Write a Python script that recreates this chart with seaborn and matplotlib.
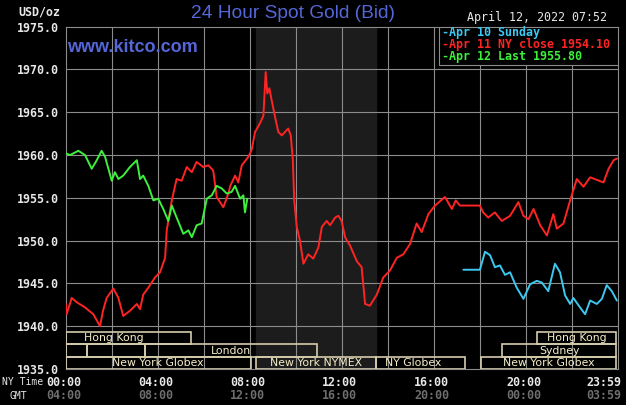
import matplotlib
matplotlib.use("Agg")
import matplotlib.pyplot as plt
import matplotlib.patches as mpatches
import pandas as pd
import seaborn as sns

# Apr 11 NY close (red)
red_hours = [0.0, 0.04, 0.26, 0.48, 0.84, 1.2, 1.49, 1.62, 1.78, 2.07,
             2.29, 2.5, 2.79, 3.09, 3.23, 3.37, 3.59, 3.88, 4.1, 4.32,
             4.39, 4.61, 4.82, 5.04, 5.26, 5.48, 5.69, 5.98, 6.2, 6.41,
             6.56, 6.85, 7.07, 7.15, 7.36, 7.5, 7.65, 7.94, 8.08, 8.23,
             8.44, 8.59, 8.69, 8.76, 8.85, 8.95, 9.1, 9.24, 9.39, 9.53,
             9.67, 9.78, 9.87, 9.93, 10.04, 10.18, 10.33, 10.54, 10.76, 10.98,
             11.13, 11.34, 11.49, 11.71, 11.85, 11.99, 12.14, 12.36, 12.65, 12.86,
             13.01, 13.22, 13.52, 13.8, 14.09, 14.39, 14.67, 14.96, 15.25, 15.47,
             15.76, 16.05, 16.48, 16.78, 16.95, 17.13, 18.0, 18.14, 18.36, 18.65,
             18.95, 19.31, 19.67, 19.89, 20.11, 20.33, 20.62, 20.91, 21.19, 21.34,
             21.63, 21.92, 22.21, 22.5, 22.79, 23.37, 23.59, 23.81, 23.96]
red_price = [1942.6, 1941.4, 1943.3, 1942.8, 1942.2, 1941.4, 1940.0, 1941.8, 1943.3, 1944.4,
             1943.3, 1941.2, 1941.8, 1942.6, 1942.0, 1943.7, 1944.5, 1945.7, 1946.3, 1948.0,
             1951.2, 1954.7, 1957.2, 1957.0, 1958.6, 1958.0, 1959.2, 1958.6, 1958.8, 1958.2,
             1955.1, 1953.9, 1955.5, 1956.4, 1957.6, 1956.8, 1958.8, 1959.8, 1960.6, 1962.7,
             1963.7, 1964.6, 1969.7, 1967.2, 1967.8, 1966.4, 1964.4, 1962.7, 1962.3, 1962.7,
             1963.1, 1962.3, 1959.4, 1954.7, 1951.6, 1950.0, 1947.3, 1948.4, 1947.9, 1949.2,
             1951.6, 1952.3, 1951.8, 1952.7, 1952.9, 1952.3, 1950.4, 1949.4, 1947.6, 1946.9,
             1942.6, 1942.4, 1943.7, 1945.7, 1946.5, 1948.0, 1948.4, 1949.6, 1952.0, 1951.0,
             1953.1, 1954.1, 1955.1, 1953.7, 1954.7, 1954.1, 1954.1, 1953.3, 1952.7, 1953.3,
             1952.3, 1952.9, 1954.5, 1952.9, 1952.5, 1953.7, 1951.8, 1950.6, 1953.1, 1951.4,
             1952.0, 1954.7, 1957.2, 1956.3, 1957.4, 1956.8, 1958.4, 1959.4, 1959.6]

# Apr 12 last (green)
green_hours = [0.0, 0.19, 0.55, 0.84, 1.13, 1.35, 1.56, 1.71, 2.0, 2.14,
               2.29, 2.5, 2.79, 3.09, 3.23, 3.37, 3.59, 3.81, 4.02, 4.24,
               4.46, 4.61, 4.82, 5.11, 5.33, 5.48, 5.69, 5.91, 6.13, 6.35,
               6.56, 6.78, 7.0, 7.21, 7.36, 7.58, 7.72, 7.79, 7.89]
green_price = [1960.2, 1960.0, 1960.5, 1960.0, 1958.4, 1959.4, 1960.5, 1959.8, 1957.0, 1958.0,
               1957.2, 1957.6, 1958.6, 1959.4, 1957.2, 1957.6, 1956.4, 1954.7, 1954.9, 1953.7,
               1952.3, 1954.1, 1952.7, 1950.8, 1951.2, 1950.4, 1951.8, 1952.0, 1954.9, 1955.3,
               1956.4, 1956.1, 1955.5, 1955.7, 1956.4, 1954.9, 1955.3, 1953.3, 1954.9]

# Apr 10 Sunday (blue)
blue_hours = [17.28, 18.0, 18.22, 18.44, 18.65, 18.87, 19.09, 19.31, 19.6, 19.89,
              20.18, 20.47, 20.69, 20.97, 21.26, 21.48, 21.7, 21.92, 22.06, 22.35,
              22.57, 22.79, 23.08, 23.3, 23.51, 23.73, 23.95]
blue_price = [1946.6, 1946.6, 1948.7, 1948.3, 1946.9, 1947.1, 1946.0, 1946.3, 1944.5, 1943.2,
              1944.9, 1945.3, 1945.1, 1944.1, 1947.3, 1946.3, 1943.6, 1942.6, 1943.3, 1942.2,
              1941.4, 1943.0, 1942.6, 1943.2, 1944.8, 1944.1, 1943.0]

legend_labels = ["-Apr 10 Sunday", "-Apr 11 NY close 1954.10", "-Apr 12 Last 1955.80"]
ny_labels = ["00:00", "04:00", "08:00", "12:00", "16:00", "20:00", "23:59"]
gmt_labels = ["04:00", "08:00", "12:00", "16:00", "20:00", "00:00", "03:59"]
label_hours = [0, 4, 8, 12, 16, 20, 24]

# market sessions: name, start, end, row (0 top)
sess_names = ["Hong Kong", "", "", "London", "New York Globex", "New York NYMEX",
              "NY Globex", "New York Globex", "Sydney", "Hong Kong"]
sess_start = [0.0, 0.0, 0.93, 3.45, 0.0, 8.27, 13.5, 18.05, 18.96, 20.48]
sess_end = [5.45, 0.93, 3.45, 10.92, 8.04, 13.5, 17.33, 23.93, 23.93, 23.93]
sess_row = [0, 1, 1, 1, 2, 2, 2, 2, 1, 0]
sess_text_x = [2.1, None, None, None, None, None, 15.1, None, None, None]

BG = "#000000"
GRID = "#8c8c8c"
RED = "#ff2424"
GREEN = "#3cf03c"
BLUE = "#3cc8f0"
TITLE = "#5566d8"
MONO = "DejaVu Sans Mono"

sns.set_theme(style="dark")
plt.rcParams["font.family"] = ["DejaVu Sans"]

fig = plt.figure(figsize=(6.26, 4.05), dpi=100, facecolor=BG)
ax = fig.add_axes([65.7 / 626, 1 - 369 / 405, (618 - 65.7) / 626, (369 - 26.7) / 405])
ax.set_facecolor(BG)

ax.axvspan(8.27, 13.5, color="#1c1c1c", zorder=0)

for h in range(2, 24, 2):
    ax.axvline(h, color=GRID, lw=0.8, zorder=1)
for p in range(1940, 1975, 5):
    ax.axhline(p, color=GRID, lw=0.8, zorder=1)

df_red = pd.DataFrame({"hour": red_hours, "price": red_price})
df_green = pd.DataFrame({"hour": green_hours, "price": green_price})
df_blue = pd.DataFrame({"hour": blue_hours, "price": blue_price})

sns.lineplot(data=df_blue, x="hour", y="price", color=BLUE, lw=1.4, sort=False,
             estimator=None, ax=ax, zorder=3)
sns.lineplot(data=df_red, x="hour", y="price", color=RED, lw=1.4, sort=False,
             estimator=None, ax=ax, zorder=4)
sns.lineplot(data=df_green, x="hour", y="price", color=GREEN, lw=1.4, sort=False,
             estimator=None, ax=ax, zorder=5)

ax.set_xlim(0, 24)
ax.set_ylim(1935, 1975)
ax.set_xticks([])
ax.set_yticks(range(1935, 1976, 5))
ax.set_yticklabels([f"{v:.1f}" for v in range(1935, 1976, 5)],
                   fontfamily=MONO, fontweight="bold", fontsize=8.4, color="#e8e8e8")
ax.tick_params(axis="y", length=0, pad=5)
ax.set_xlabel("")
ax.set_ylabel("")
for s in ax.spines.values():
    s.set_color(GRID)
    s.set_linewidth(0.8)
ax.grid(False)

# market session boxes
row_bounds = [(1937.9, 1939.35), (1936.4, 1937.9), (1935.0, 1936.4)]
for name, a, b, r, tx in zip(sess_names, sess_start, sess_end, sess_row, sess_text_x):
    lo, hi = row_bounds[r]
    ax.add_patch(mpatches.Rectangle((a, lo), b - a, hi - lo, fill=False,
                                    ec="#d4ccac", lw=1.2, zorder=6))
    if name:
        x = tx if tx is not None else (a + b) / 2
        ax.text(x, (lo + hi) / 2, name, ha="center", va="center", fontsize=7.8,
                color="#f6eec8", fontfamily="DejaVu Sans", zorder=7)

# legend box
ax.add_patch(mpatches.Rectangle((16.2, 1970.5), 7.8, 4.5, facecolor=BG,
                                ec=GRID, lw=0.8, zorder=8))
for i, (lab, col) in enumerate(zip(legend_labels, [BLUE, RED, GREEN])):
    ax.text(16.35, 1974.3 - i * 1.42, lab, color=col, fontfamily=MONO,
            fontweight="bold", fontsize=8.4, va="center", ha="left", zorder=9)

# time labels
trans = ax.get_xaxis_transform()
for h, ny, gm in zip(label_hours, ny_labels, gmt_labels):
    dx = -0.6 if h == 24 else -0.1
    ax.text(h + dx, -0.038, ny, transform=trans, ha="center", va="center",
            fontfamily=MONO, fontweight="bold", fontsize=8.4, color="#e8e8e8")
    ax.text(h + dx, -0.078, gm, transform=trans, ha="center", va="center",
            fontfamily=MONO, fontweight="bold", fontsize=8.4, color="#6e6e6e")

fig.text(2 / 626, 1 - 382 / 405, "NY Time", ha="left", va="center",
         fontfamily=MONO, fontsize=7.0, color="#e8e8e8")
fig.text(10 / 626, 1 - 396 / 405, "GMT", ha="left", va="center",
         fontfamily=MONO, fontsize=7.0, color="#e8e8e8")
fig.text(18 / 626, 1 - 12 / 405, "USD/oz", ha="left", va="center",
         fontfamily=MONO, fontweight="bold", fontsize=8.4, color="#e8e8e8")
fig.text(293 / 626, 1 - 14 / 405, "24 Hour Spot Gold (Bid)", ha="center", va="center",
         fontfamily="Liberation Sans", fontsize=13.8, color=TITLE)
fig.text(67 / 626, 1 - 48 / 405, "www.kitco.com", ha="left", va="center",
         fontfamily="Liberation Sans", fontweight="bold", fontsize=13, color=TITLE)
fig.text(537 / 626, 1 - 17 / 405, "April 12, 2022 07:52", ha="center", va="center",
         fontfamily=MONO, fontsize=8.4, color="#e8e8e8")

fig.savefig("out.png", dpi=100, facecolor=BG)
